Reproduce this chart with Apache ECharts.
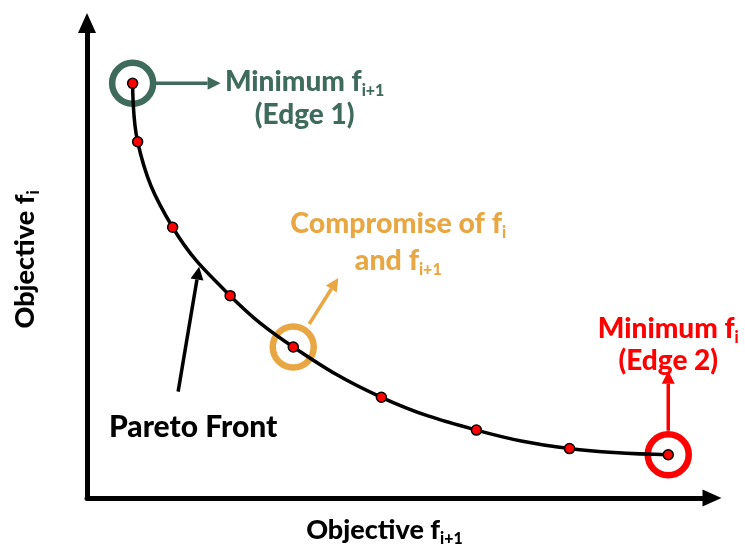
<!DOCTYPE html>
<html>
<head>
<meta charset="utf-8">
<title>Pareto Front</title>
<script src="https://cdn.jsdelivr.net/npm/echarts@6/dist/echarts.min.js"></script>
<style>
  html, body { margin: 0; padding: 0; background: #ffffff; }
  #chart { width: 745px; height: 552px; }
</style>
</head>
<body>
<div id="chart"></div>
<script>
// Pareto front samples: objective f_{i+1} (x) against objective f_i (y)
const frontX = [7.3, 8.1, 13.7, 22.9, 33.0, 47.1, 62.3, 77.2, 93.0];
const frontY = [87.3, 75.0, 57.0, 42.6, 31.8, 21.2, 14.3, 10.4, 9.1];

// Indices of the highlighted solutions on the front
const edge1Index = 0;       // minimum f_{i+1}
const compromiseIndex = 4;  // compromise of f_i and f_{i+1}
const edge2Index = 8;       // minimum f_i

const FONT = 'Lato, "Open Sans", sans-serif';
const WEIGHT = 900;
const GREEN = '#3e6b5b';
const ORANGE = '#e8a743';
const RED = '#ff0000';

const frontData = frontX.map((x, i) => [x, frontY[i]]);

// Rich text styles for "main text + subscript"; key is 'color' for axis names, 'fill' for graphics
function richStyles(colorKey, color, size, subSize, lh, subDrop) {
  const m = { fontFamily: FONT, fontWeight: WEIGHT, fontSize: size, lineHeight: lh };
  const s = { fontFamily: FONT, fontWeight: WEIGHT, fontSize: subSize,
              lineHeight: subSize, padding: [subDrop, 0, 0, 0] };
  m[colorKey] = color;
  s[colorKey] = color;
  return { m: m, s: s };
}

const chart = echarts.init(document.getElementById('chart'), null, { renderer: 'canvas' });

const highlightRings = [
  { value: frontData[edge1Index], itemStyle: { borderColor: GREEN } },
  { value: frontData[compromiseIndex], itemStyle: { borderColor: ORANGE } },
  { value: frontData[edge2Index], itemStyle: { borderColor: RED } }
];

chart.setOption({
  animation: false,
  backgroundColor: '#ffffff',
  grid: { left: 84, right: 33, top: 23, bottom: 48 },
  xAxis: {
    type: 'value', min: 0, max: 100,
    axisLine: { show: true, symbol: ['none', 'triangle'], symbolSize: [17, 19],
                lineStyle: { color: '#000', width: 5 } },
    axisTick: { show: false }, axisLabel: { show: false }, splitLine: { show: false },
    name: '{m|Objective f}{s|i+1}',
    nameLocation: 'middle', nameGap: 18,
    nameTextStyle: { padding: [0, 30, 0, 0], rich: richStyles('color', '#000', 27, 16, 28, 18) }
  },
  yAxis: {
    type: 'value', min: 0, max: 100,
    axisLine: { show: true, symbol: ['none', 'triangle'], symbolSize: [18, 20],
                lineStyle: { color: '#000', width: 5 } },
    axisTick: { show: false }, axisLabel: { show: false }, splitLine: { show: false },
    name: '{m|Objective f}{s|i}',
    nameLocation: 'middle', nameGap: 48, nameRotate: 90,
    nameTextStyle: { padding: [0, 0, 0, 2], rich: richStyles('color', '#000', 27, 16, 28, 18) }
  },
  series: [
    {
      type: 'scatter', z: 2, symbol: 'circle', symbolSize: 41, silent: true,
      itemStyle: { color: 'rgba(0,0,0,0)', borderWidth: 6.5, opacity: 1 },
      data: highlightRings
    },
    {
      type: 'line', z: 3, data: frontData,
      smooth: 0.4,
      lineStyle: { color: '#000', width: 3.5 },
      symbol: 'circle', symbolSize: 10, showSymbol: true,
      itemStyle: { color: RED, borderColor: '#000', borderWidth: 1.5 }
    }
  ]
});

// Arrow helper: shaft plus triangular head, in pixel space
function arrow(x1, y1, x2, y2, color, width, headLen, headHalf) {
  const ang = Math.atan2(y2 - y1, x2 - x1);
  const bx = x2 - headLen * Math.cos(ang), by = y2 - headLen * Math.sin(ang);
  const px = -Math.sin(ang) * headHalf, py = Math.cos(ang) * headHalf;
  return [
    { type: 'line', z: 10, shape: { x1: x1, y1: y1, x2: bx, y2: by },
      style: { stroke: color, lineWidth: width } },
    { type: 'polygon', z: 10,
      shape: { points: [[x2, y2], [bx + px, by + py], [bx - px, by - py]] },
      style: { fill: color } }
  ];
}

function label(x, y, text, color, size, subSize, lh) {
  return {
    type: 'text', z: 11, x: x, y: y,
    style: { text: text, align: 'center', verticalAlign: 'middle',
             rich: richStyles('fill', color, size, subSize, lh, 18) }
  };
}

const px = i => chart.convertToPixel({ gridIndex: 0 }, frontData[i]);
const p0 = px(edge1Index), pc = px(compromiseIndex), p8 = px(edge2Index), p3 = px(3);

let elements = [];
elements = elements.concat(arrow(p0[0] + 21, p0[1], p0[0] + 88, p0[1], GREEN, 3.5, 13, 6.5));
elements = elements.concat(arrow(pc[0] + 16, pc[1] - 23, pc[0] + 45, pc[1] - 69, ORANGE, 3.5, 13, 6.5));
elements = elements.concat(arrow(p8[0], p8[1] - 24, p8[0], p8[1] - 84, RED, 3.5, 13, 6.5));
elements = elements.concat(arrow(p3[0] - 52, p3[1] + 96, p3[0] - 31, p3[1] - 29, '#000', 3.5, 13, 6.5));

elements.push(label(p0[0] + 172, p0[1] + 15, '{m|Minimum f}{s|i+1}\n{m|(Edge 1)}', GREEN, 28, 16, 33));
elements.push(label(pc[0] + 105, pc[1] - 105, '{m|Compromise of f}{s|i}\n{m|and f}{s|i+1}', ORANGE, 28.5, 16, 37));
elements.push(label(p8[0], p8[1] - 110, '{m|Minimum f}{s|i}\n{m|(Edge 2)}', RED, 28, 16, 32));
elements.push({
  type: 'text', z: 11, x: p3[0] - 37, y: p3[1] + 132,
  style: { text: 'Pareto Front', align: 'center', verticalAlign: 'middle',
           fontFamily: FONT, fontWeight: WEIGHT, fontSize: 30, fill: '#000' }
});

chart.setOption({ graphic: { elements: elements } });
</script>
</body>
</html>
